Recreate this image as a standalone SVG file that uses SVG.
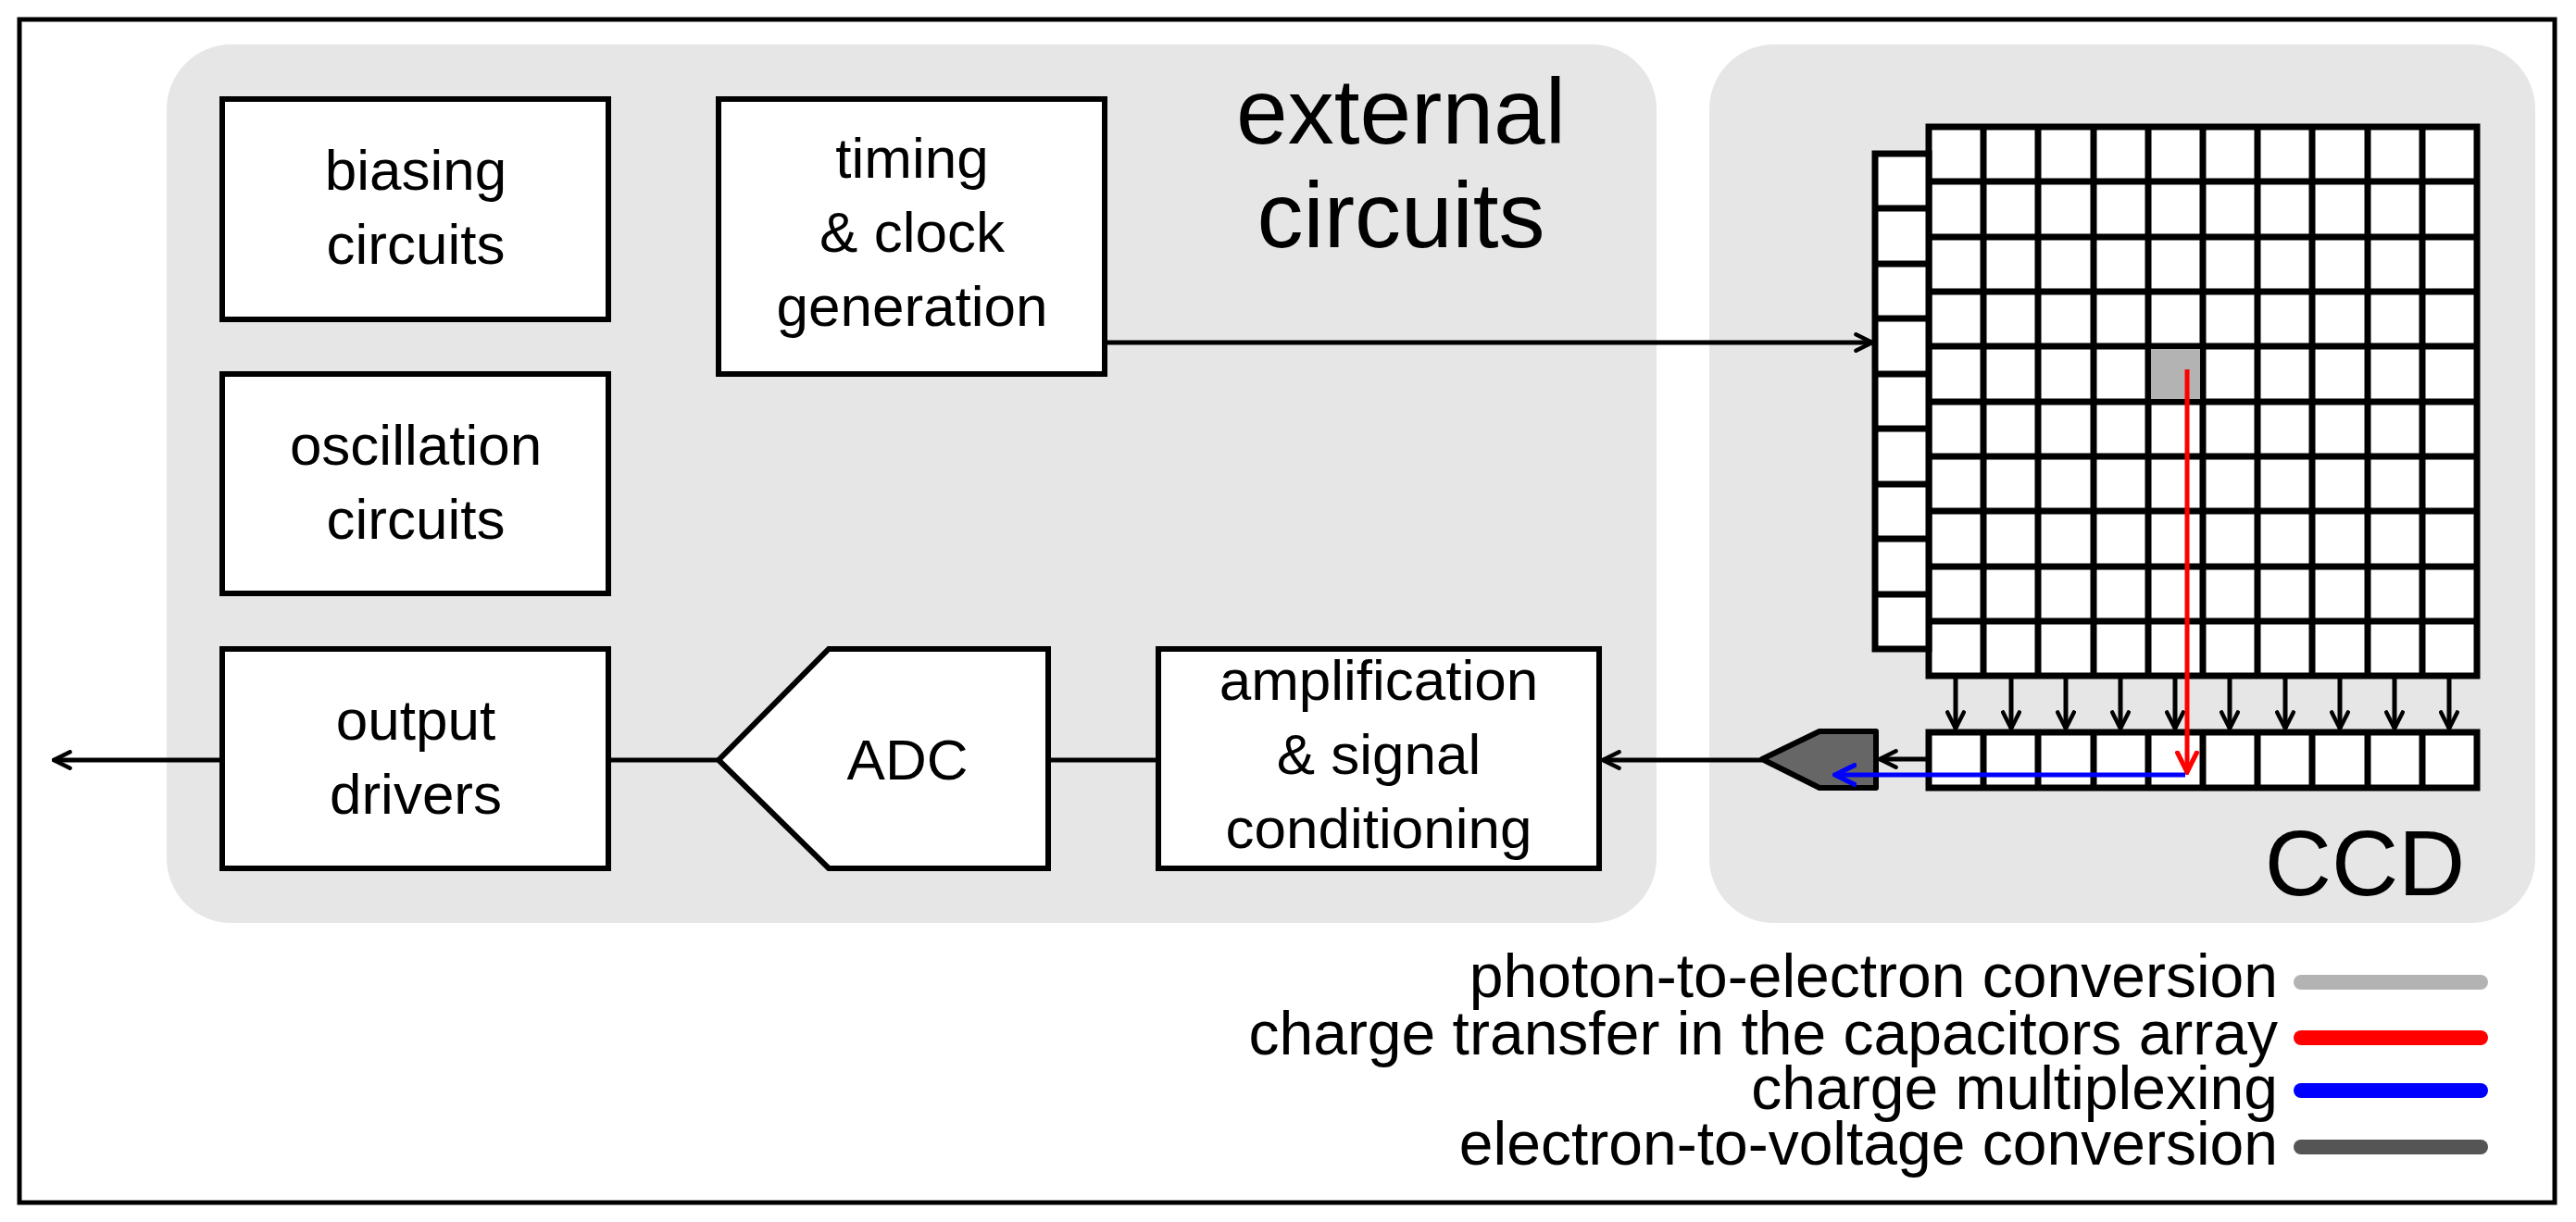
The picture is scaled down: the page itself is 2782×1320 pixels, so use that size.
<svg xmlns="http://www.w3.org/2000/svg" width="2782" height="1320" viewBox="0 0 2782 1320">
<defs>
<marker id="a" viewBox="0 0 20 20" refX="18" refY="10" markerWidth="22" markerHeight="22" markerUnits="userSpaceOnUse" orient="auto"><path d="M2,2 L18,10 L2,18" fill="none" stroke="#000" stroke-width="4" stroke-linecap="round"/></marker>
<marker id="ar" viewBox="0 0 20 20" refX="18" refY="10" markerWidth="26" markerHeight="26" markerUnits="userSpaceOnUse" orient="auto"><path d="M2,2 L18,10 L2,18" fill="none" stroke="#f00" stroke-width="4" stroke-linecap="round"/></marker>
<marker id="ab" viewBox="0 0 20 20" refX="18" refY="10" markerWidth="26" markerHeight="26" markerUnits="userSpaceOnUse" orient="auto"><path d="M2,2 L18,10 L2,18" fill="none" stroke="#00f" stroke-width="4" stroke-linecap="round"/></marker>
</defs>
<style>
.b{fill:#fff;stroke:#000;stroke-width:6}
.t{font-family:"Liberation Sans",Arial,sans-serif;font-size:62px;text-anchor:middle;fill:#000}
.big{font-family:"Liberation Sans",Arial,sans-serif;font-size:100px;text-anchor:middle;fill:#000}
.lg{font-family:"Liberation Sans",Arial,sans-serif;font-size:66px;text-anchor:end;fill:#000}
.c{stroke:#000;stroke-width:5;fill:none}
.cell{fill:#fff;stroke:#000;stroke-width:7}
</style>
<rect x="21" y="21" width="2738" height="1278" fill="#fff" stroke="#000" stroke-width="5"/>
<g id="external"><rect x="180" y="48" width="1609" height="949" rx="70" fill="#e6e6e6"/><text class="big" x="1513" y="155">external</text><text class="big" x="1513" y="267">circuits</text></g>
<g id="ccd-panel"><rect x="1846" y="48" width="892" height="949" rx="70" fill="#e6e6e6"/><text class="big" x="2554" y="967">CCD</text></g>
<g id="biasing"><rect class="b" x="240" y="107" width="417" height="238"/><text class="t" x="449" y="205">biasing</text><text class="t" x="449" y="285">circuits</text></g>
<g id="oscillation"><rect class="b" x="240" y="404" width="417" height="237"/><text class="t" x="449" y="502">oscillation</text><text class="t" x="449" y="582">circuits</text></g>
<g id="output"><rect class="b" x="240" y="701" width="417" height="237"/><text class="t" x="449" y="799">output</text><text class="t" x="449" y="879">drivers</text></g>
<g id="timing"><rect class="b" x="776" y="107" width="417" height="297"/><text class="t" x="985" y="192">timing</text><text class="t" x="985" y="272">&amp; clock</text><text class="t" x="985" y="352">generation</text></g>
<g id="adc"><polygon class="b" points="776,821 895,701 1132,701 1132,938 895,938"/><text class="t" x="980" y="842">ADC</text></g>
<g id="amp"><rect class="b" x="1251" y="701" width="476" height="237"/><text class="t" x="1489" y="756">amplification</text><text class="t" x="1489" y="836">&amp; signal</text><text class="t" x="1489" y="916">conditioning</text></g>
<g id="ccd-array">
<rect class="cell" x="2083" y="137" width="592" height="593"/>
<path stroke="#000" stroke-width="7" d="M2142,137V730M2201,137V730M2261,137V730M2320,137V730M2379,137V730M2438,137V730M2497,137V730M2557,137V730M2616,137V730M2083,196H2675M2083,256H2675M2083,315H2675M2083,374H2675M2083,434H2675M2083,493H2675M2083,552H2675M2083,612H2675M2083,671H2675"/>
<rect x="2323" y="377" width="53" height="54" fill="#b3b3b3"/>
<rect class="cell" x="2025" y="166" width="58" height="535"/>
<path stroke="#000" stroke-width="7" d="M2025,225H2083M2025,285H2083M2025,344H2083M2025,404H2083M2025,463H2083M2025,523H2083M2025,582H2083M2025,642H2083"/>
<rect class="cell" x="2083" y="791" width="592" height="60"/>
<path stroke="#000" stroke-width="7" d="M2142,791V851M2201,791V851M2261,791V851M2320,791V851M2379,791V851M2438,791V851M2497,791V851M2557,791V851M2616,791V851"/>
<polygon points="1903,820 1965,790 2026,790 2026,851 1965,851" fill="#666" stroke="#000" stroke-width="6" stroke-linejoin="round"/>
</g>
<g id="connectors">
<line class="c" x1="1193" y1="370" x2="2022" y2="370" marker-end="url(#a)"/>
<g class="c" marker-end="url(#a)">
<line x1="2112" y1="733" x2="2112" y2="787"/><line x1="2172" y1="733" x2="2172" y2="787"/><line x1="2231" y1="733" x2="2231" y2="787"/><line x1="2290" y1="733" x2="2290" y2="787"/><line x1="2349" y1="733" x2="2349" y2="787"/><line x1="2408" y1="733" x2="2408" y2="787"/><line x1="2468" y1="733" x2="2468" y2="787"/><line x1="2527" y1="733" x2="2527" y2="787"/><line x1="2586" y1="733" x2="2586" y2="787"/><line x1="2645" y1="733" x2="2645" y2="787"/>
</g>
<line class="c" x1="2083" y1="820" x2="2030" y2="820" marker-end="url(#a)"/>
<line class="c" x1="1903" y1="821" x2="1731" y2="821" marker-end="url(#a)"/>
<line class="c" x1="1132" y1="821" x2="1251" y2="821"/>
<line class="c" x1="657" y1="821" x2="776" y2="821"/>
<line class="c" x1="240" y1="821" x2="58" y2="821" marker-end="url(#a)"/>
<line x1="2362" y1="399" x2="2362" y2="834" stroke="#f00" stroke-width="5" marker-end="url(#ar)"/>
<line x1="2360" y1="837" x2="1982" y2="837" stroke="#00f" stroke-width="5" marker-end="url(#ab)"/>
</g>
<g id="legend">
<text class="lg" x="2460" y="1077">photon-to-electron conversion</text>
<text class="lg" x="2460" y="1139">charge transfer in the capacitors array</text>
<text class="lg" x="2460" y="1198">charge multiplexing</text>
<text class="lg" x="2460" y="1258">electron-to-voltage conversion</text>
<g stroke-width="16" stroke-linecap="round">
<line x1="2485" y1="1061" x2="2679" y2="1061" stroke="#b3b3b3"/>
<line x1="2485" y1="1121" x2="2679" y2="1121" stroke="#f00"/>
<line x1="2485" y1="1178" x2="2679" y2="1178" stroke="#00f"/>
<line x1="2485" y1="1239" x2="2679" y2="1239" stroke="#555"/>
</g>
</g>
</svg>
